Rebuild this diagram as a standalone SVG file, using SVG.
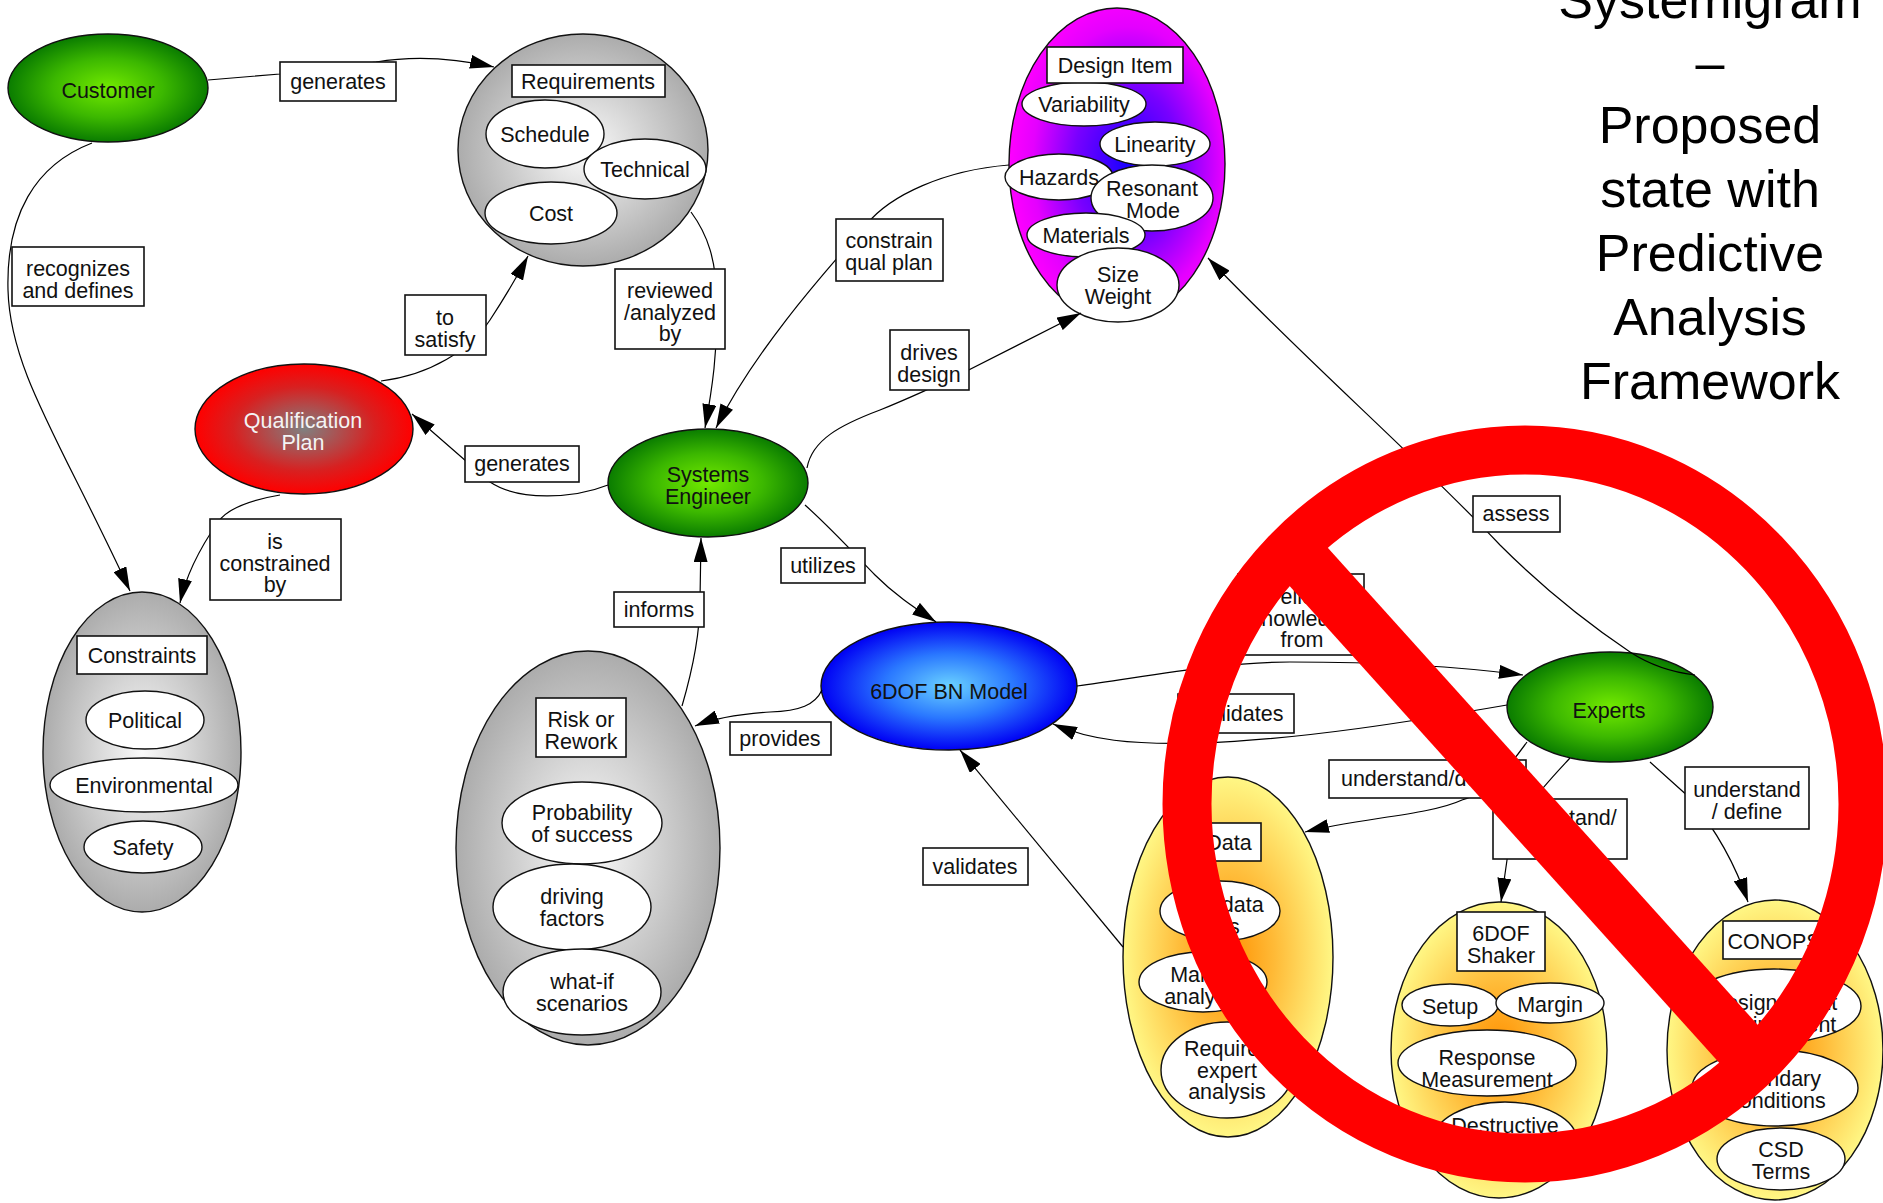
<svg xmlns="http://www.w3.org/2000/svg" width="1883" height="1203" viewBox="0 0 1883 1203">
  <defs>
    <style>
      .t { font-family: "Liberation Sans", Arial, sans-serif; font-size: 21.5px; fill: #111; text-anchor: middle; }
      .tw { font-family: "Liberation Sans", Arial, sans-serif; font-size: 21.5px; fill: #f4f4f4; text-anchor: middle; }
      .title { font-family: "Liberation Sans", Arial, sans-serif; font-size: 52px; fill: #000; text-anchor: middle; }
      .n { stroke: #111; stroke-width: 1.4; }
      .in { fill: #fff; stroke: #111; stroke-width: 1.4; }
      .lb { fill: #fff; stroke: #111; stroke-width: 1.6; }
      .c { fill: none; stroke: #000; stroke-width: 1.2; marker-end: url(#ah); }
      .sign { fill: none; stroke: #ff0000; }
    </style>
    <marker id="ah" viewBox="0 0 24 14" refX="24" refY="7" markerWidth="24" markerHeight="14" markerUnits="userSpaceOnUse" orient="auto">
      <path d="M0,0 L24,7 L0,14 z" fill="#000"/>
    </marker>
    <radialGradient id="gGreen" cx="0.5" cy="0.5" r="0.5">
      <stop offset="0" stop-color="#72ea00"/>
      <stop offset="0.55" stop-color="#3cb800"/>
      <stop offset="1" stop-color="#0a7c00"/>
    </radialGradient>
    <radialGradient id="gGray" cx="0.5" cy="0.5" r="0.5">
      <stop offset="0" stop-color="#fbfbfb"/>
      <stop offset="1" stop-color="#acacac"/>
    </radialGradient>
    <radialGradient id="gRed" cx="0.5" cy="0.5" r="0.5">
      <stop offset="0" stop-color="#808080"/>
      <stop offset="0.65" stop-color="#d82020"/>
      <stop offset="1" stop-color="#ff0000"/>
    </radialGradient>
    <radialGradient id="gBlue" cx="0.5" cy="0.5" r="0.5">
      <stop offset="0" stop-color="#6ad2ff"/>
      <stop offset="0.5" stop-color="#2a78ff"/>
      <stop offset="1" stop-color="#0000f4"/>
    </radialGradient>
    <radialGradient id="gMagenta" cx="0.55" cy="0.5" r="0.55">
      <stop offset="0" stop-color="#1800ff"/>
      <stop offset="0.45" stop-color="#7800ff"/>
      <stop offset="0.8" stop-color="#e400ff"/>
      <stop offset="1" stop-color="#ff00ff"/>
    </radialGradient>
    <radialGradient id="gYellow" cx="0.5" cy="0.5" r="0.5">
      <stop offset="0" stop-color="#ff9000"/>
      <stop offset="0.45" stop-color="#ffbb38"/>
      <stop offset="1" stop-color="#fff785"/>
    </radialGradient>
  </defs>

  <rect x="0" y="0" width="1883" height="1203" fill="#fff"/>

  <!-- nodes -->
  <g id="customer">
    <ellipse class="n" cx="108" cy="88" rx="100" ry="54" fill="url(#gGreen)"/>
    <text class="t" x="108" y="98">Customer</text>
  </g>

  <g id="requirements">
    <ellipse class="n" cx="583" cy="150" rx="125" ry="116" fill="url(#gGray)"/>
    <ellipse class="in" cx="545" cy="134" rx="59" ry="34"/>
    <text class="t" x="545" y="142">Schedule</text>
    <ellipse class="in" cx="645" cy="169" rx="61" ry="30"/>
    <text class="t" x="645" y="177">Technical</text>
    <ellipse class="in" cx="551" cy="213" rx="66" ry="31"/>
    <text class="t" x="551" y="221">Cost</text>
    <rect class="lb" x="512" y="65" width="153" height="32"/>
    <text class="t" x="588" y="89">Requirements</text>
  </g>

  <g id="design-item">
    <ellipse class="n" cx="1117" cy="164" rx="108" ry="156" fill="url(#gMagenta)"/>
    <ellipse class="in" cx="1084" cy="104" rx="62" ry="22"/>
    <text class="t" x="1084" y="112">Variability</text>
    <ellipse class="in" cx="1155" cy="144" rx="55" ry="22"/>
    <text class="t" x="1155" y="152">Linearity</text>
    <ellipse class="in" cx="1059" cy="177" rx="54" ry="23"/>
    <text class="t" x="1059" y="185">Hazards</text>
    <ellipse class="in" cx="1152" cy="198" rx="61" ry="33"/>
    <text class="t" x="1152" y="196">Resonant<tspan x="1153" dy="21.5">Mode</tspan></text>
    <ellipse class="in" cx="1086" cy="235" rx="59" ry="22"/>
    <text class="t" x="1086" y="243">Materials</text>
    <ellipse class="in" cx="1118" cy="285" rx="61" ry="37"/>
    <text class="t" x="1118" y="282">Size<tspan x="1118" dy="21.5">Weight</tspan></text>
    <rect class="lb" x="1047" y="47" width="136" height="36"/>
    <text class="t" x="1115" y="73">Design Item</text>
  </g>

  <g id="qualification-plan">
    <ellipse class="n" cx="304" cy="429" rx="109" ry="65" fill="url(#gRed)"/>
    <text class="tw" x="303" y="428">Qualification<tspan x="303" dy="21.5">Plan</tspan></text>
  </g>

  <g id="systems-engineer">
    <ellipse class="n" cx="708" cy="483" rx="100" ry="54" fill="url(#gGreen)"/>
    <text class="t" x="708" y="482">Systems<tspan x="708" dy="21.5">Engineer</tspan></text>
  </g>

  <g id="constraints">
    <ellipse class="n" cx="142" cy="752" rx="99" ry="160" fill="url(#gGray)"/>
    <rect class="lb" x="77" y="636" width="130" height="38"/>
    <text class="t" x="142" y="663">Constraints</text>
    <ellipse class="in" cx="145" cy="720" rx="59" ry="29"/>
    <text class="t" x="145" y="728">Political</text>
    <ellipse class="in" cx="144" cy="785" rx="94" ry="27"/>
    <text class="t" x="144" y="793">Environmental</text>
    <ellipse class="in" cx="143" cy="847" rx="59" ry="26"/>
    <text class="t" x="143" y="855">Safety</text>
  </g>

  <g id="risk-or-rework">
    <ellipse class="n" cx="588" cy="848" rx="132" ry="197" fill="url(#gGray)"/>
    <rect class="lb" x="536" y="698" width="90" height="59"/>
    <text class="t" x="581" y="727">Risk or<tspan x="581" dy="21.5">Rework</tspan></text>
    <ellipse class="in" cx="582" cy="823" rx="80" ry="41"/>
    <text class="t" x="582" y="820">Probability<tspan x="582" dy="21.5">of success</tspan></text>
    <ellipse class="in" cx="572" cy="907" rx="79" ry="43"/>
    <text class="t" x="572" y="904">driving<tspan x="572" dy="21.5">factors</tspan></text>
    <ellipse class="in" cx="582" cy="992" rx="79" ry="43"/>
    <text class="t" x="582" y="989">what-if<tspan x="582" dy="21.5">scenarios</tspan></text>
  </g>

  <g id="bn-model">
    <ellipse class="n" cx="949" cy="686" rx="128" ry="64" fill="url(#gBlue)"/>
    <text class="t" x="949" y="699">6DOF BN Model</text>
  </g>

  <g id="experts">
    <ellipse class="n" cx="1610" cy="707" rx="103" ry="55" fill="url(#gGreen)"/>
    <text class="t" x="1609" y="718">Experts</text>
  </g>

  <g id="test-data">
    <ellipse class="n" cx="1228" cy="957" rx="105" ry="180" fill="url(#gYellow)"/>
    <rect class="lb" x="1196" y="823" width="65" height="38"/>
    <text class="t" x="1229" y="850">Data</text>
    <ellipse class="in" cx="1220" cy="911" rx="60" ry="30"/>
    <text class="t" x="1220" y="912">Test data<tspan x="1220" dy="21.5">sets</tspan></text>
    <ellipse class="in" cx="1203" cy="982" rx="64" ry="30"/>
    <text class="t" x="1203" y="982">Margin<tspan x="1203" dy="21.5">analysis</tspan></text>
    <ellipse class="in" cx="1227" cy="1070" rx="66" ry="48"/>
    <text class="t" x="1227" y="1056">Requires<tspan x="1227" dy="21.5">expert</tspan><tspan x="1227" dy="21.5">analysis</tspan></text>
  </g>

  <g id="shaker">
    <ellipse class="n" cx="1499" cy="1050" rx="108" ry="148" fill="url(#gYellow)"/>
    <rect class="lb" x="1457" y="912" width="88" height="59"/>
    <text class="t" x="1501" y="941">6DOF<tspan x="1501" dy="21.5">Shaker</tspan></text>
    <ellipse class="in" cx="1450" cy="1005" rx="48" ry="21"/>
    <text class="t" x="1450" y="1014">Setup</text>
    <ellipse class="in" cx="1550" cy="1003" rx="54" ry="20"/>
    <text class="t" x="1550" y="1012">Margin</text>
    <ellipse class="in" cx="1487" cy="1063" rx="89" ry="33"/>
    <text class="t" x="1487" y="1065">Response<tspan x="1487" dy="21.5">Measurement</tspan></text>
    <ellipse class="in" cx="1505" cy="1141" rx="72" ry="39"/>
    <text class="t" x="1505" y="1133">Destructive</text>
  </g>

  <g id="conops">
    <ellipse class="n" cx="1775" cy="1050" rx="108" ry="150" fill="url(#gYellow)"/>
    <rect class="lb" x="1723" y="921" width="103" height="38"/>
    <text class="t" x="1774" y="949">CONOPS</text>
    <ellipse class="in" cx="1774" cy="1006" rx="87" ry="37"/>
    <text class="t" x="1774" y="1010">Design Intent<tspan x="1776" dy="21.5">Environment</tspan></text>
    <ellipse class="in" cx="1775" cy="1088" rx="83" ry="38"/>
    <text class="t" x="1775" y="1086">Boundary<tspan x="1775" dy="21.5">Conditions</tspan></text>
    <ellipse class="in" cx="1781" cy="1159" rx="64" ry="31"/>
    <text class="t" x="1781" y="1157">CSD<tspan x="1781" dy="21.5">Terms</tspan></text>
  </g>

  <!-- connectors -->
  <g id="connectors">
    <path class="c" d="M208,80 L280,74 L376,62 C405,57 445,56 494,67"/>
    <path class="c" d="M92,143 C35,165 6,215 8,290 C10,370 60,440 130,591"/>
    <path class="c" d="M381,381 C430,375 470,350 490,320 C505,297 518,275 528,256"/>
    <path class="c" d="M691,212 C708,235 716,260 717,300 C718,350 712,390 705,428"/>
    <path class="c" d="M1009,165 C945,170 890,195 866,225 C845,250 760,340 716,428"/>
    <path class="c" d="M807,468 C812,440 840,425 880,410 C910,398 930,388 945,382 L1081,313"/>
    <path class="c" d="M608,485 C575,498 520,502 490,482 L412,414"/>
    <path class="c" d="M280,495 C250,500 228,508 218,522 C200,548 186,575 180,603"/>
    <path class="c" d="M682,706 C694,665 700,630 700,600 L701,538"/>
    <path class="c" d="M805,505 C835,532 860,560 875,575 C895,595 915,608 936,622"/>
    <path class="c" d="M822,690 C815,705 800,711 770,712 C740,714 715,718 695,726"/>
    <path class="c" d="M1123,947 L960,750"/>
    <path class="c" d="M1077,686 C1150,676 1220,662 1290,662 C1400,662 1470,668 1523,675"/>
    <path class="c" d="M1507,705 C1420,720 1300,740 1200,743 C1130,745 1090,740 1053,724"/>
    <path class="c" d="M1527,742 C1500,780 1480,795 1462,800 C1430,815 1360,818 1305,832"/>
    <path class="c" d="M1570,758 C1545,785 1510,820 1507,860 L1501,902"/>
    <path class="c" d="M1650,762 L1690,798 C1720,835 1738,872 1748,902"/>
    <path class="c" d="M1695,675 C1670,672 1650,665 1630,652 C1590,625 1545,590 1500,545 C1420,460 1300,355 1208,258"/>
  </g>

  <!-- connector labels -->
  <g id="labels">
    <rect class="lb" x="280" y="62" width="116" height="39"/>
    <text class="t" x="338" y="89">generates</text>
    <rect class="lb" x="12" y="247" width="132" height="59"/>
    <text class="t" x="78" y="276">recognizes<tspan x="78" dy="21.5">and defines</tspan></text>
    <rect class="lb" x="405" y="295" width="81" height="60"/>
    <text class="t" x="445" y="325">to<tspan x="445" dy="21.5">satisfy</tspan></text>
    <rect class="lb" x="615" y="269" width="110" height="80"/>
    <text class="t" x="670" y="298">reviewed<tspan x="670" dy="21.5">/analyzed</tspan><tspan x="670" dy="21.5">by</tspan></text>
    <rect class="lb" x="836" y="219" width="107" height="62"/>
    <text class="t" x="889" y="248">constrain<tspan x="889" dy="22">qual plan</tspan></text>
    <rect class="lb" x="890" y="330" width="79" height="60"/>
    <text class="t" x="929" y="360">drives<tspan x="929" dy="21.5">design</tspan></text>
    <rect class="lb" x="465" y="446" width="114" height="36"/>
    <text class="t" x="522" y="471">generates</text>
    <rect class="lb" x="210" y="519" width="131" height="81"/>
    <text class="t" x="275" y="549">is<tspan x="275" dy="21.5">constrained</tspan><tspan x="275" dy="21.5">by</tspan></text>
    <rect class="lb" x="614" y="592" width="90" height="35"/>
    <text class="t" x="659" y="617">informs</text>
    <rect class="lb" x="781" y="548" width="84" height="35"/>
    <text class="t" x="823" y="573">utilizes</text>
    <rect class="lb" x="730" y="722" width="101" height="33"/>
    <text class="t" x="780" y="746">provides</text>
    <rect class="lb" x="923" y="848" width="105" height="37"/>
    <text class="t" x="975" y="874">validates</text>
    <rect class="lb" x="1238" y="574" width="126" height="81"/>
    <text class="t" x="1302" y="604">elicit<tspan x="1302" dy="21.5">knowledge</tspan><tspan x="1302" dy="21.5">from</tspan></text>
    <rect class="lb" x="1178" y="694" width="116" height="39"/>
    <text class="t" x="1241" y="721">validates</text>
    <rect class="lb" x="1329" y="760" width="197" height="38"/>
    <text class="t" x="1427" y="786">understand/define</text>
    <rect class="lb" x="1493" y="799" width="134" height="60"/>
    <text class="t" x="1560" y="825">understand/<tspan x="1560" dy="21.5">define</tspan></text>
    <rect class="lb" x="1685" y="767" width="124" height="62"/>
    <text class="t" x="1747" y="797">understand<tspan x="1747" dy="21.5">/ define</tspan></text>
    <rect class="lb" x="1473" y="496" width="87" height="36"/>
    <text class="t" x="1516" y="521">assess</text>
  </g>

  <!-- prohibition sign over the expert-driven part -->
  <g id="no-sign">
    <ellipse class="sign" cx="1525" cy="804" rx="338" ry="354" stroke-width="49"/>
    <line class="sign" x1="1289" y1="545" x2="1753" y2="1060" stroke-width="54"/>
  </g>

  <!-- heading -->
  <g id="heading">
    <text class="title" x="1710" y="18">Systemigram</text>
    <text class="title" x="1710" y="80">–</text>
    <text class="title" x="1710" y="143">Proposed</text>
    <text class="title" x="1710" y="207">state with</text>
    <text class="title" x="1710" y="271">Predictive</text>
    <text class="title" x="1710" y="335">Analysis</text>
    <text class="title" x="1710" y="399">Framework</text>
  </g>
</svg>
